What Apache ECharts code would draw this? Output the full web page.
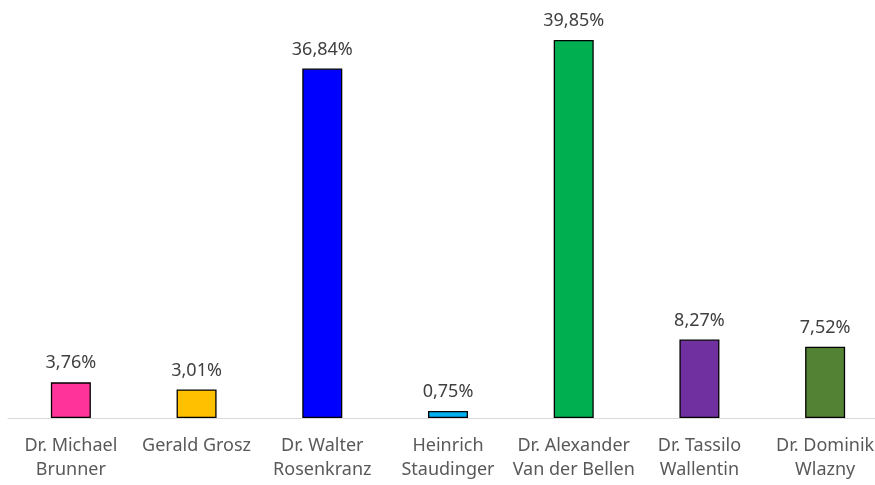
<!DOCTYPE html>
<html><head><meta charset="utf-8">
<script src="https://cdn.jsdelivr.net/npm/echarts@6/dist/echarts.min.js"></script>
<style>html,body{margin:0;padding:0;background:#fff}#c{width:875px;height:485px}</style>
</head><body><div id="c"></div>
<script>
const categories = ["Dr. Michael\nBrunner","Gerald Grosz","Dr. Walter\nRosenkranz","Heinrich\nStaudinger","Dr. Alexander\nVan der Bellen","Dr. Tassilo\nWallentin","Dr. Dominik\nWlazny"];
const values = [3.76, 3.01, 36.84, 0.75, 39.85, 8.27, 7.52];
const colors = ["#FF3399","#FFC000","#0000FF","#00B0F0","#00B050","#7030A0","#548235"];
const chart = echarts.init(document.getElementById('c'));
const font = "'Noto Sans', 'Open Sans', sans-serif";
chart.setOption({
  animation:false,
  grid:{left:8, width:880, top:38.6, height:379.4, containLabel:false, outerBoundsMode:'none'},
  xAxis:{type:'category', data:categories,
    axisLine:{lineStyle:{color:'#D9D9D9', width:1}}, axisTick:{show:false},
    axisLabel:{color:'#595959', fontSize:18, fontFamily:font, lineHeight:24, margin:16, interval:0}},
  yAxis:{type:'value', min:0, max:40, show:false, splitLine:{show:false}},
  series:[{type:'bar', barWidth:40,
    data: values.map((v,i)=>({value:v, itemStyle:{color:colors[i]}})),
    itemStyle:{borderColor:'#000', borderWidth:1.3},
    label:{show:true, position:'top', distance:10, color:'#404040', fontSize:18, fontFamily:font,
      formatter:p=>p.value.toFixed(2).replace('.',',')+'%'}
  }]
});
</script></body></html>
